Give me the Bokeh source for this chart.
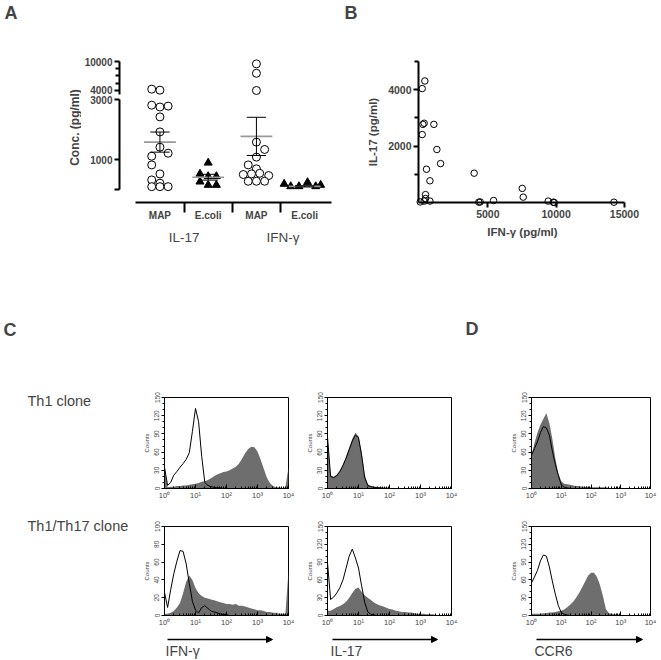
import math
from bokeh.plotting import figure
from bokeh.layouts import row, column
from bokeh.models import (Range1d, FixedTicker, LinearAxis, Label, Arrow,
                          NormalHead, SingleIntervalTicker)
from bokeh.embed import file_html
from bokeh.resources import INLINE

FONT = "Liberation Sans"
GRAY_FILL = "#6e6e6e"

# ---------------- Panel A data ----------------
A_GROUP_POS = [1, 2, 3, 4]
A_GROUP_LABELS = ["MAP", "E.coli", "MAP", "E.coli"]
A_SEPARATORS = [1.5, 2.5, 3.5]
A_CYTOKINE_POS = [1.5, 3.55]
A_CYTOKINES = ["IL-17", "IFN-γ"]

IL17_MAP = [4280, 4070, 2810, 2750, 2780, 2420, 1920, 1410, 1110, 1210, 820, 520, 320, 210, 95, 95, 95]
IL17_MAP_COL = [-1, 0, -1, 0, 1, 0, 0, 0, -1, 1, -1, 0, -1, 0, -1, 0, 1]
IL17_ECOLI = [890, 520, 440, 440, 260, 150, 150]
IL17_ECOLI_COL = [0, -1, 0, 1, -1, 0, 1]
IFNG_MAP = [9510, 7560, 4000, 1580, 1335, 1080, 820, 690, 500, 520, 540, 465, 275, 275, 275]
IFNG_MAP_COL = [0, 0, 0, 0, 1, 0, -1, 0, -1.6, -0.6, 0.4, 1.5, -1, 0, 1]
IFNG_ECOLI = [185, 105, 105, 240, 105, 150]
IFNG_ECOLI_COL = [-2.5, -1.7, -0.7, 0.35, 1.35, 1.95]
A_MEAN = [1580, 410, 1770, 106]
A_SEM = [335, 97, 637, 20]

# ---------------- Panel B data ----------------
B_IFNG = [50, 390, 195, 340, 245, 1050, 195, 1270, 1540, 510, 760, 4000, 440, 440,
          340, 760, 4340, 4440, 5420, 7520, 7590, 9420, 9790, 9860, 14230]
B_IL17 = [20, 4310, 4040, 2810, 2770, 2770, 2410, 1880, 1380, 1180, 770, 1040, 280, 140,
          50, 50, 10, 20, 70, 500, 190, 50, 10, 0, 10]

# ---------------- Panel C / D histograms (counts per log10 bin 0.0 .. 4.0) ----------------
BIN_LOG = [i / 10 for i in range(41)]

TH1_IFNG_OPEN = [35, 5, 10, 22, 28, 35, 41, 48, 59, 94,
                 132, 110, 53, 10, 5, 3, 2, 1, 1, 0,
                 0, 0, 0, 0, 0, 0, 0, 0, 0, 0,
                 0, 0, 0, 0, 0, 0, 0, 0, 0, 0, 0]
TH1_IFNG_FILL = [35, 2, 3, 3, 4, 4, 5, 5, 6, 7,
                 8, 9, 11, 12, 14, 17, 20, 23, 25, 27,
                 28, 30, 33, 36, 41, 49, 58, 65, 69, 68,
                 61, 48, 33, 18, 9, 4, 2, 2, 1, 2, 35]
TH1_IL17_OPEN = [85, 20, 18, 21, 28, 38, 50, 64, 78, 88,
                 84, 55, 18, 5, 3, 2, 1, 1, 0, 0,
                 0, 0, 0, 0, 0, 0, 0, 0, 0, 0,
                 0, 0, 0, 0, 0, 0, 0, 0, 0, 0, 0]
TH1_IL17_FILL = [85, 22, 19, 23, 30, 40, 53, 67, 82, 92,
                 86, 60, 23, 7, 4, 3, 3, 2, 2, 2,
                 1, 1, 1, 1, 1, 1, 1, 1, 1, 1,
                 1, 0, 0, 0, 0, 0, 0, 0, 0, 0, 0]
TH1_CCR6_OPEN = [55, 66, 77, 92, 102, 100, 88, 62, 40, 22,
                 6, 2, 1, 0, 0, 0, 0, 0, 0, 0,
                 0, 0, 0, 0, 0, 0, 0, 0, 0, 0,
                 0, 0, 0, 0, 0, 0, 0, 0, 0, 0, 0]
TH1_CCR6_FILL = [55, 75, 92, 105, 115, 124, 108, 82, 50, 25,
                 12, 8, 7, 6, 5, 4, 4, 3, 3, 3,
                 2, 2, 2, 2, 2, 2, 1, 1, 1, 1,
                 1, 0, 0, 0, 0, 0, 0, 0, 0, 0, 0]
TH17_IFNG_OPEN = [26, 9, 29, 47, 61, 73, 72, 58, 36, 16,
                  6, 3, 9, 11, 8, 5, 4, 3, 2, 1,
                  1, 0, 0, 0, 0, 0, 0, 0, 0, 0,
                  0, 0, 0, 0, 0, 0, 0, 0, 0, 0, 0]
TH17_IFNG_FILL = [2, 2, 3, 5, 9, 14, 25, 38, 45, 40,
                  31, 25, 22, 20, 19, 18, 17, 16, 15, 14,
                  13, 13, 12, 13, 11, 11, 10, 9, 8, 7,
                  6, 6, 5, 4, 4, 3, 3, 2, 2, 2, 50]
TH17_IL17_OPEN = [89, 27, 31, 38, 47, 60, 80, 100, 112, 97,
                  80, 50, 22, 6, 2, 1, 0, 0, 0, 0,
                  0, 0, 0, 0, 0, 0, 0, 0, 0, 0,
                  0, 0, 0, 0, 0, 0, 0, 0, 0, 0, 0]
TH17_IL17_FILL = [8, 8, 11, 14, 16, 19, 23, 30, 38, 45,
                  47, 40, 34, 30, 26, 22, 19, 17, 15, 13,
                  11, 10, 8, 7, 6, 6, 5, 5, 4, 3,
                  3, 3, 2, 2, 2, 1, 1, 1, 1, 1, 1]
TH17_CCR6_OPEN = [55, 65, 76, 92, 102, 100, 82, 58, 36, 17,
                  5, 2, 1, 0, 0, 0, 0, 0, 0, 0,
                  0, 0, 0, 0, 0, 0, 0, 0, 0, 0,
                  0, 0, 0, 0, 0, 0, 0, 0, 0, 0, 0]
TH17_CCR6_FILL = [3, 3, 3, 3, 4, 4, 5, 5, 6, 7,
                  8, 10, 14, 18, 23, 30, 38, 47, 57, 67,
                  72, 72, 65, 52, 33, 11, 4, 3, 2, 2,
                  1, 1, 1, 1, 1, 1, 1, 1, 1, 1, 1]

for arr in [TH1_IFNG_OPEN, TH1_IFNG_FILL, TH1_IL17_OPEN, TH1_IL17_FILL, TH1_CCR6_OPEN,
            TH1_CCR6_FILL, TH17_IFNG_OPEN, TH17_IFNG_FILL, TH17_IL17_OPEN, TH17_IL17_FILL,
            TH17_CCR6_OPEN, TH17_CCR6_FILL]:
    assert len(arr) == len(BIN_LOG), len(arr)

DECADE_LABELS = {1: "10⁰", 10: "10¹", 100: "10²", 1000: "10³", 10000: "10⁴"}


def new_fig(**kw):
    p = figure(toolbar_location=None, output_backend="svg",
               x_axis_location=None, y_axis_location=None, **kw)
    p.grid.visible = False
    p.outline_line_color = None
    return p


def blank(width, height):
    """Text-only strip: its frame is the whole canvas, one data unit per pixel."""
    return new_fig(width=width, height=height, x_range=Range1d(0, width),
                   y_range=Range1d(0, height), min_border=0, frame_align=False)


def text(p, x, y, s, size, bold=False, angle=0.0, align="left"):
    p.add_layout(Label(x=x, y=y, text=s, text_font=FONT, text_font_size=size,
                       text_font_style="bold" if bold else "normal", angle=angle,
                       text_align=align, text_baseline="middle"))


def prism_axis(ax, label_size="10px", title_size="12px"):
    ax.axis_line_width = 2
    ax.major_tick_line_width = 2
    ax.minor_tick_line_width = 2
    ax.major_label_text_font = FONT
    ax.major_label_text_font_style = "bold"
    ax.major_label_text_font_size = label_size
    ax.axis_label_text_font = FONT
    ax.axis_label_text_font_style = "bold"
    ax.axis_label_text_font_size = title_size


PAGE_W = 660

# ---------------- strip with panel letters A / B ----------------
strip_ab = blank(PAGE_W, 25)
text(strip_ab, 4, 13, "A", "18px", bold=True)
text(strip_ab, 344, 13, "B", "18px", bold=True)

# ---------------- Panel A ----------------
A_X = Range1d(0.162, 4.556)
COL_STEP = 0.17

groups = [(IL17_MAP, IL17_MAP_COL, "circle"), (IL17_ECOLI, IL17_ECOLI_COL, "triangle"),
          (IFNG_MAP, IFNG_MAP_COL, "circle"), (IFNG_ECOLI, IFNG_ECOLI_COL, "triangle")]

# upper segment: canvas y 25..95, frame 61..94 ; lower segment: canvas 95..262, frame 99..202
a_up = new_fig(width=254, height=70, x_range=A_X, y_range=Range1d(3172, 10000),
               min_border_left=36, min_border_right=4, min_border_top=36, min_border_bottom=1)
a_lo = new_fig(width=254, height=167, x_range=A_X, y_range=Range1d(-433, 3000),
               min_border_left=36, min_border_right=4, min_border_top=4, min_border_bottom=60)

for (vals, cols, marker), pos in zip(groups, A_GROUP_POS):
    for fig, keep in ((a_up, lambda v: v > 3000), (a_lo, lambda v: v <= 3000)):
        xs = [pos + c * COL_STEP for v, c in zip(vals, cols) if keep(v)]
        ys = [v for v in vals if keep(v)]
        if not xs:
            continue
        if marker == "circle":
            rr = fig.scatter(xs, ys, marker="circle", size=8, fill_color="white",
                             line_color="black", line_width=1)
        else:
            rr = fig.scatter(xs, ys, marker="triangle", size=8, fill_color="black",
                             line_color="black", line_width=1)
        if fig is a_up:
            rr.level = "overlay"

a_lo.segment(x0=[p - 0.33 for p in A_GROUP_POS], x1=[p + 0.33 for p in A_GROUP_POS],
             y0=A_MEAN, y1=A_MEAN, line_color="#999999", line_width=1.6)
a_lo.segment(x0=A_GROUP_POS, x1=A_GROUP_POS,
             y0=[m - s for m, s in zip(A_MEAN, A_SEM)], y1=[m + s for m, s in zip(A_MEAN, A_SEM)],
             line_color="black", line_width=1)
for sign in (-1, 1):
    a_lo.segment(x0=[p - 0.2 for p in A_GROUP_POS], x1=[p + 0.2 for p in A_GROUP_POS],
                 y0=[m + sign * s for m, s in zip(A_MEAN, A_SEM)],
                 y1=[m + sign * s for m, s in zip(A_MEAN, A_SEM)],
                 line_color="black", line_width=1)

ya_up = LinearAxis(ticker=FixedTicker(ticks=[4000, 10000], minor_ticks=[5500, 7000, 8500]),
                   bounds=(3172, 10000), major_tick_out=5, major_tick_in=0,
                   minor_tick_out=4, minor_tick_in=0, major_label_standoff=2)
prism_axis(ya_up)
a_up.add_layout(ya_up, "left")

ya_lo = LinearAxis(ticker=FixedTicker(ticks=[0, 1000, 3000]), bounds=(0, 3000),
                   major_label_overrides={0: ""}, major_tick_out=5, major_tick_in=0,
                   minor_tick_out=0, minor_tick_in=0, major_label_standoff=2)
prism_axis(ya_lo)
a_lo.add_layout(ya_lo, "left")

xa1 = LinearAxis(ticker=FixedTicker(ticks=A_GROUP_POS, minor_ticks=A_SEPARATORS),
                 bounds=(0.49, 4.556),
                 major_label_overrides=dict(zip(A_GROUP_POS, A_GROUP_LABELS)),
                 major_tick_out=0, major_tick_in=0, minor_tick_out=10, minor_tick_in=0,
                 major_label_standoff=-3)
prism_axis(xa1)
a_lo.add_layout(xa1, "below")

xa2 = LinearAxis(ticker=FixedTicker(ticks=A_CYTOKINE_POS),
                 major_label_overrides=dict(zip(A_CYTOKINE_POS, A_CYTOKINES)),
                 axis_line_color=None, major_tick_line_color=None, minor_tick_line_color=None,
                 major_label_standoff=0, major_label_text_font=FONT,
                 major_label_text_font_size="13.5px")
a_lo.add_layout(xa2, "below")

a_title = blank(81, 237)
text(a_title, 74, 135, "Conc. (pg/ml)", "12px", bold=True, angle=math.pi / 2, align="center")

# ---------------- Panel B ----------------
pb = new_fig(width=325, height=237, x_range=Range1d(-75, 15150), y_range=Range1d(0, 5000),
             min_border_left=83, min_border_right=34, min_border_top=36, min_border_bottom=60)
r = pb.scatter(B_IFNG, B_IL17, marker="circle", size=6.5, fill_alpha=0,
               line_color="black", line_width=1)
r.level = "overlay"
yb = LinearAxis(ticker=FixedTicker(ticks=[2000, 4000], minor_ticks=[1000, 3000, 5000]),
                bounds=(0, 5000), axis_label="IL-17 (pg/ml)", major_tick_out=5, major_tick_in=0,
                minor_tick_out=4, minor_tick_in=0, major_label_standoff=2, axis_label_standoff=6)
prism_axis(yb, "10.5px", "11.5px")
pb.add_layout(yb, "left")
xb = LinearAxis(ticker=FixedTicker(ticks=[5000, 10000, 15000]), bounds=(-75, 15000),
                axis_label="IFN-γ (pg/ml)", major_tick_out=5, major_tick_in=0,
                minor_tick_out=0, minor_tick_in=0, major_label_standoff=2, axis_label_standoff=5)
prism_axis(xb, "10.5px", "11.5px")
pb.add_layout(xb, "below")

# ---------------- strip with panel letters C / D ----------------
strip_cd = blank(PAGE_W, 118)
text(strip_cd, 3, 51, "C", "18px", bold=True)
text(strip_cd, 465, 52, "D", "18px", bold=True)


# ---------------- Panels C / D histograms ----------------
def hist_fig(open_vals, fill_vals, ymax, yint, nminor, width, height, left, right, top, bottom):
    p = figure(width=width, height=height, x_axis_type="log", x_range=Range1d(1, 10000),
               y_range=Range1d(0, ymax), toolbar_location=None, output_backend="svg",
               min_border_left=left, min_border_right=right, min_border_top=top,
               min_border_bottom=bottom)
    p.grid.visible = False
    p.outline_line_color = "black"
    p.outline_line_width = 1
    xs = [10 ** b for b in BIN_LOG]
    p.varea(x=xs, y1=0, y2=fill_vals, fill_color=GRAY_FILL)
    p.line(xs, open_vals, line_color="black", line_width=1)
    xa = p.xaxis[0]
    xa.major_label_overrides = DECADE_LABELS
    xa.major_tick_in = 4
    xa.major_tick_out = 0
    xa.minor_tick_in = 2
    xa.minor_tick_out = 0
    xa.major_label_standoff = 2
    xa.major_label_text_font = FONT
    xa.major_label_text_font_size = "7.5px"
    ya = p.yaxis[0]
    ya.ticker = SingleIntervalTicker(interval=yint, num_minor_ticks=nminor)
    ya.major_tick_out = 3
    ya.major_tick_in = 0
    ya.minor_tick_out = 2
    ya.minor_tick_in = 0
    ya.major_label_orientation = "vertical"
    ya.major_label_standoff = 2
    ya.major_label_text_font = FONT
    ya.major_label_text_font_size = "6.5px"
    ya.axis_label = "Counts"
    ya.axis_label_standoff = 2
    ya.axis_label_text_font = FONT
    ya.axis_label_text_font_style = "normal"
    ya.axis_label_text_font_size = "6px"
    return p


# column geometry: (fig width, left border, right border); row geometry: (height, top, bottom)
C1 = (162, 26, 12)
C2 = (160, 27, 9)
C3 = (200, 71, 10)
R1 = (126, 17, 18)
R2 = (124, 20, 15)

h11 = hist_fig(TH1_IFNG_OPEN, TH1_IFNG_FILL, 150, 30, 3, C1[0], R1[0], C1[1], C1[2], R1[1], R1[2])
h21 = hist_fig(TH1_IL17_OPEN, TH1_IL17_FILL, 150, 30, 3, C2[0], R1[0], C2[1], C2[2], R1[1], R1[2])
h31 = hist_fig(TH1_CCR6_OPEN, TH1_CCR6_FILL, 150, 30, 3, C3[0], R1[0], C3[1], C3[2], R1[1], R1[2])
h12 = hist_fig(TH17_IFNG_OPEN, TH17_IFNG_FILL, 100, 20, 1, C1[0], R2[0], C1[1], C1[2], R2[1], R2[2])
h22 = hist_fig(TH17_IL17_OPEN, TH17_IL17_FILL, 150, 30, 3, C2[0], R2[0], C2[1], C2[2], R2[1], R2[2])
h32 = hist_fig(TH17_CCR6_OPEN, TH17_CCR6_FILL, 150, 30, 3, C3[0], R2[0], C3[1], C3[2], R2[1], R2[2])

c_text = blank(138, 250)
text(c_text, 27, 230, "Th1 clone", "14.5px")
text(c_text, 27, 105, "Th1/Th17 clone", "14.5px")

# ---------------- strip with the channel arrows ----------------
strip_arrows = blank(PAGE_W, 30)
for x0, x1, s in [(167, 272, "IFN-γ"), (332, 437, "IL-17"), (536, 642, "CCR6")]:
    strip_arrows.add_layout(Arrow(end=NormalHead(size=6, fill_color="black", line_color="black"),
                                  x_start=x0, y_start=21, x_end=x1, y_end=21,
                                  line_color="black", line_width=1.5))
    text(strip_arrows, x0 - 2, 10, s, "14px")

top = row(a_title, column(a_up, a_lo), pb)
bottom = row(c_text, column(h11, h12), column(h21, h22), column(h31, h32))
page = column(strip_ab, top, strip_cd, bottom, strip_arrows)

open("out.html", "w").write(file_html(page, INLINE))
